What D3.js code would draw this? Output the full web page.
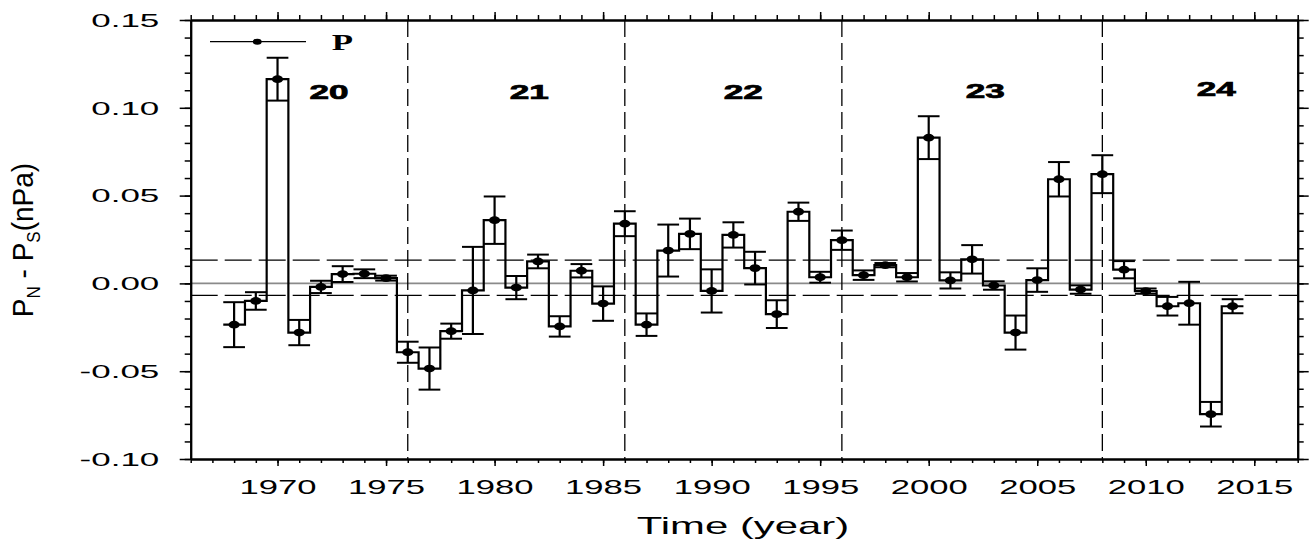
<!DOCTYPE html>
<html>
<head>
<meta charset="utf-8">
<script src="https://cdn.jsdelivr.net/npm/d3@7"></script>
<style>
  html, body { margin: 0; padding: 0; background: #fff; }
  svg { display: block; font-family: "Liberation Sans", Arial, sans-serif; }
</style>
</head>
<body>
<svg id="chart" width="1309" height="543"></svg>
<script>
// ---------------- DATA ----------------
const years = [1968,1969,1970,1971,1972,1973,1974,1975,1976,1977,1978,1979,1980,1981,1982,1983,1984,1985,1986,1987,1988,1989,1990,1991,1992,1993,1994,1995,1996,1997,1998,1999,2000,2001,2002,2003,2004,2005,2006,2007,2008,2009,2010,2011,2012,2013,2014];
const pDiff = [-0.0235,-0.0100,0.1163,-0.0280,-0.0020,0.0053,0.0055,0.0030,-0.0392,-0.0485,-0.0272,-0.0040,0.0360,-0.0024,0.0125,-0.0245,0.0072,-0.0115,0.0340,-0.0235,0.0187,0.0282,-0.0043,0.0276,0.0087,-0.0175,0.0408,0.0035,0.0246,0.0047,0.0104,0.0035,0.0830,0.0017,0.0137,-0.0012,-0.0280,0.0019,0.0593,-0.0035,0.0622,0.0078,-0.0044,-0.0130,-0.0113,-0.0745,-0.0130];
const pErr = [0.0128,0.0050,0.0122,0.0072,0.0035,0.0045,0.0025,0.0014,0.0060,0.0120,0.0043,0.0248,0.0135,0.0066,0.0039,0.0058,0.0038,0.0098,0.0071,0.0064,0.0148,0.0087,0.0123,0.0072,0.0093,0.0079,0.0052,0.0031,0.0055,0.0027,0.0012,0.0024,0.0122,0.0046,0.0081,0.0024,0.0097,0.0067,0.0098,0.0024,0.0108,0.0049,0.0015,0.0053,0.0122,0.0070,0.0040];
const cycleBoundaries = [1976, 1986, 1996, 2008];
const cycleNames = ["20", "21", "22", "23", "24"];
const cycleLabelYear = [1972.37, 1981.6, 1991.46, 2002.6, 2013.25];
const cycleLabelValue = [0.105, 0.105, 0.105, 0.1055, 0.1065];
const refLevels = [0.0133, -0.0068];
const xTickLabels = [1970, 1975, 1980, 1985, 1990, 1995, 2000, 2005, 2010, 2015];
const yTickLabels = [-0.10, -0.05, 0.00, 0.05, 0.10, 0.15];
const legendLabel = "P";

// ---------------- SETUP ----------------
const svg = d3.select("#chart");
const x = d3.scaleLinear().domain([1966, 2017]).range([190.7, 1297.7]);
const y = d3.scaleLinear().domain([-0.10, 0.15]).range([459, 20]);
const [X0, X1] = x.range();
const [Y0, Y1] = y.range();

const minorYears = d3.range(1966, 2018);
const minorY = d3.range(-10, 16).map(i => i / 100);

// ---------------- REFERENCE LINES ----------------
svg.append("line")
  .attr("x1", X0).attr("x2", X1).attr("y1", y(0)).attr("y2", y(0))
  .attr("stroke", "#8a8a8a").attr("stroke-width", 1.6);

svg.selectAll("line.ref").data(refLevels).enter().append("line")
  .attr("class", "ref")
  .attr("x1", X0).attr("x2", X1)
  .attr("y1", d => y(d)).attr("y2", d => y(d))
  .attr("stroke", "#000").attr("stroke-width", 1.2)
  .attr("stroke-dasharray", "27,7");

svg.selectAll("line.cyc").data(cycleBoundaries).enter().append("line")
  .attr("class", "cyc")
  .attr("x1", d => x(d)).attr("x2", d => x(d))
  .attr("y1", Y1).attr("y2", Y0)
  .attr("stroke", "#000").attr("stroke-width", 1.3)
  .attr("stroke-dasharray", "17,6");

// ---------------- STEP LINE ----------------
const stepPts = years.map((yr, i) => [yr - 0.5, pDiff[i]]);
stepPts.push([years[years.length - 1] + 0.5, pDiff[pDiff.length - 1]]);
const stepLine = d3.line().x(d => x(d[0])).y(d => y(d[1])).curve(d3.curveStepAfter);
svg.append("path").datum(stepPts)
  .attr("d", stepLine)
  .attr("fill", "none").attr("stroke", "#000").attr("stroke-width", 2.2);

// ---------------- ERROR BARS ----------------
const eb = svg.append("g");
years.forEach((yr, i) => {
  const v = pDiff[i], e = pErr[i];
  eb.append("line")
    .attr("x1", x(yr)).attr("x2", x(yr))
    .attr("y1", y(v - e)).attr("y2", y(v + e))
    .attr("stroke", "#000").attr("stroke-width", 2.2);
  [v - e, v + e].forEach(c => {
    eb.append("line")
      .attr("x1", x(yr - 0.5)).attr("x2", x(yr + 0.5))
      .attr("y1", y(c)).attr("y2", y(c))
      .attr("stroke", "#000").attr("stroke-width", 2);
  });
});

// ---------------- DOTS ----------------
svg.selectAll("ellipse.pt").data(years).enter().append("ellipse")
  .attr("class", "pt")
  .attr("cx", d => x(d))
  .attr("cy", (d, i) => y(pDiff[i]))
  .attr("rx", 5.6).attr("ry", 3.9)
  .attr("fill", "#000");

// ---------------- AXES ----------------
function styleAxis(g) {
  g.select(".domain").attr("stroke", "#000").attr("stroke-width", 2);
  g.selectAll(".tick line").attr("stroke", "#000").attr("stroke-width", 1.5);
}
// bottom
svg.append("g").attr("transform", `translate(0,${Y0})`)
  .call(d3.axisBottom(x).tickValues(minorYears).tickSize(4).tickSizeOuter(0).tickFormat(""))
  .call(styleAxis);
const bx = svg.append("g").attr("transform", `translate(0,${Y0})`)
  .call(d3.axisBottom(x).tickValues(xTickLabels).tickSize(7).tickSizeOuter(0).tickFormat(d3.format("d")))
  .call(styleAxis);
bx.selectAll(".tick text")
  .attr("y", 0).attr("dy", 0)
  .attr("font-size", 21).attr("fill", "#000")
  .attr("font-family", "Liberation Sans, Arial, sans-serif")
  .attr("transform", "translate(0,35.3) scale(1.65,1)");
// top
svg.append("g").attr("transform", `translate(0,${Y1})`)
  .call(d3.axisTop(x).tickValues(minorYears).tickSize(5).tickSizeOuter(0).tickFormat(""))
  .call(styleAxis);
svg.append("g").attr("transform", `translate(0,${Y1})`)
  .call(d3.axisTop(x).tickValues(xTickLabels).tickSize(8).tickSizeOuter(0).tickFormat(""))
  .call(styleAxis);
// left
svg.append("g").attr("transform", `translate(${X0},0)`)
  .call(d3.axisLeft(y).tickValues(minorY).tickSize(6).tickSizeOuter(0).tickFormat(""))
  .call(styleAxis);
const ly = svg.append("g").attr("transform", `translate(${X0},0)`)
  .call(d3.axisLeft(y).tickValues(yTickLabels).tickSize(11).tickSizeOuter(0)
    .tickFormat(d => d3.format(".2f")(d).replace("\u2212", "-")))
  .call(styleAxis);
ly.selectAll(".tick text")
  .attr("x", 0).attr("dy", "0.36em")
  .attr("font-size", 17.5).attr("fill", "#000")
  .attr("font-family", "Liberation Sans, Arial, sans-serif")
  .attr("transform", "translate(-31.4,0) scale(2.0,1)");
// right
svg.append("g").attr("transform", `translate(${X1},0)`)
  .call(d3.axisRight(y).tickValues(minorY).tickSize(6).tickSizeOuter(0).tickFormat(""))
  .call(styleAxis);
svg.append("g").attr("transform", `translate(${X1},0)`)
  .call(d3.axisRight(y).tickValues(yTickLabels).tickSize(11).tickSizeOuter(0).tickFormat(""))
  .call(styleAxis);

// ---------------- CYCLE LABELS ----------------
cycleNames.forEach((n, i) => {
  svg.append("text")
    .attr("transform", `translate(${x(cycleLabelYear[i])},${y(cycleLabelValue[i])}) scale(1.8,1)`)
    .attr("text-anchor", "middle")
    .attr("font-size", 19.5).attr("font-weight", "bold")
    .attr("fill", "#000").attr("stroke", "#000").attr("stroke-width", 0.7)
    .text(n);
});

// ---------------- LEGEND ----------------
svg.append("line").attr("x1", 210).attr("x2", 306).attr("y1", 41.7).attr("y2", 41.7)
  .attr("stroke", "#000").attr("stroke-width", 1.3);
svg.append("ellipse").attr("cx", 257.3).attr("cy", 41.7).attr("rx", 4.4).attr("ry", 3).attr("fill", "#000");
svg.append("text")
  .attr("transform", "translate(331.7,50) scale(1.55,1)")
  .attr("font-family", "Liberation Serif, Times New Roman, serif")
  .attr("font-weight", "bold").attr("font-size", 22.5)
  .attr("fill", "#000")
  .text(legendLabel);

// ---------------- AXIS TITLES ----------------
svg.append("text")
  .attr("transform", "translate(743,534.3) scale(1.82,1)")
  .attr("text-anchor", "middle")
  .attr("font-size", 23).attr("fill", "#000")
  .text("Time (year)");

const yt = svg.append("text")
  .attr("transform", "translate(33.3,240) rotate(-90) scale(1,1.08)")
  .attr("text-anchor", "middle")
  .attr("font-size", 28).attr("fill", "#000");
yt.append("tspan").text("P");
yt.append("tspan").attr("font-size", 17).attr("dy", 6).text("N");
yt.append("tspan").attr("dy", -6).text(" - P");
yt.append("tspan").attr("font-size", 17).attr("dy", 6).text("S");
yt.append("tspan").attr("dy", -6).text("(nPa)");
</script>
</body>
</html>
